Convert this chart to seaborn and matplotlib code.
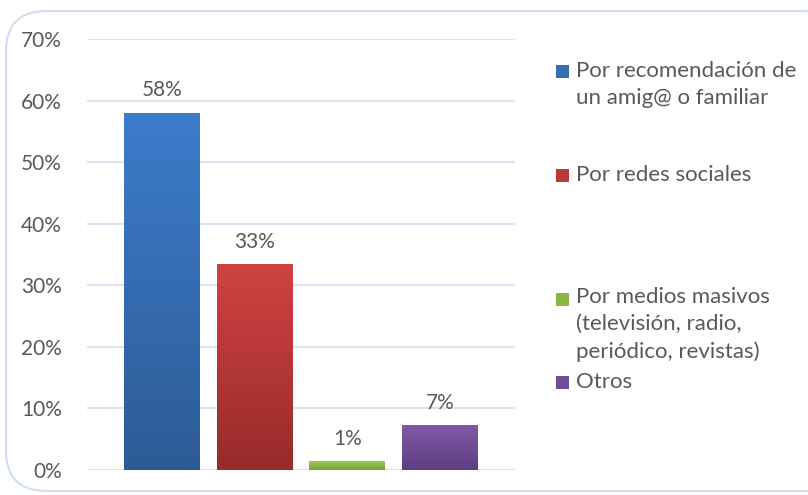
import numpy as np
import pandas as pd
import matplotlib
matplotlib.use("Agg")
import matplotlib.pyplot as plt
import seaborn as sns
from matplotlib.colors import LinearSegmentedColormap
from matplotlib.patches import FancyBboxPatch, Rectangle

categories = ["Por recomendación de\nun amig@ o familiar",
              "Por redes sociales",
              "Por medios masivos\n(televisión, radio,\nperiódico, revistas)",
              "Otros"]
shares = [0.58, 0.334, 0.014, 0.073]
bar_labels = ["58%", "33%", "1%", "7%"]
yticks = [0, 0.1, 0.2, 0.3, 0.4, 0.5, 0.6, 0.7]

# gradient colours (top, bottom) like the Excel fill
tops = ["#3d7ccb", "#d04242", "#9cc94c", "#8159a9"]
bottoms = ["#2d5b96", "#982b2b", "#75a23a", "#5e3f80"]
mids = ["#366cb3", "#b93838", "#8ab643", "#704c97"]

text_col = "#595959"
grid_col = "#d9e4f2"

sns.set_theme(style="white")
plt.rcParams["font.family"] = ["Lato", "DejaVu Sans"]

fig = plt.figure(figsize=(8.08, 4.95), dpi=100)
ax = fig.add_axes([87 / 808, 1 - 470 / 495, (515 - 87) / 808, (470 - 39) / 495])

df = pd.DataFrame({"cat": categories, "share": shares})
sns.barplot(data=df, x="cat", y="share", hue="cat", palette=mids,
            width=0.82, legend=False, ax=ax, zorder=3)

# gradient fill clipped to each bar
for patch, top, bot in zip(ax.patches, tops, bottoms):
    x0, y0 = patch.get_x(), patch.get_y()
    w, h = patch.get_width(), patch.get_height()
    cmap = LinearSegmentedColormap.from_list("g", [bot, top])
    grad = np.linspace(1, 0, 100).reshape(-1, 1)
    im = ax.imshow(grad, cmap=cmap, vmin=0, vmax=1, aspect="auto",
                   extent=[x0, x0 + w, y0, y0 + h], zorder=4)
    im.set_clip_path(patch)
    patch.set_edgecolor("none")

for i, (v, lab) in enumerate(zip(shares, bar_labels)):
    ax.annotate(lab, (i, v), xytext=(0, 9), textcoords="offset points",
                ha="center", va="bottom", fontsize=15, color=text_col, zorder=5)

ax.set_xlim(-0.81, 3.81)
ax.set_ylim(0, 0.70)
ax.set_yticks(yticks)
ax.set_yticklabels([f"{t:.0%}" for t in yticks], fontsize=15, color=text_col)
ax.tick_params(axis="y", length=0, pad=18)
ax.set_xticks([])
ax.set_xlabel("")
ax.set_ylabel("")
ax.yaxis.grid(True, color=grid_col, linewidth=1.6, zorder=0)
ax.set_axisbelow(True)
for s in ax.spines.values():
    s.set_visible(False)

# rounded chart border
border = FancyBboxPatch((6 / 808, 4 / 495), 840 / 808, 480 / 495,
                        boxstyle="round,pad=0,rounding_size=0.05",
                        transform=fig.transFigure, fill=False,
                        edgecolor="#cfdff1", linewidth=1.5, zorder=0,
                        mutation_aspect=808 / 495)
fig.patches.append(border)

# legend, placed like Excel spreads it
legend_y = [77, 181, 305, 388]  # baseline of first line, px
line_px = 26.5
for lab, col, yb in zip(categories, mids, legend_y):
    n = lab.count("\n")
    fig.patches.append(Rectangle((556 / 808, 1 - (yb + 0.5) / 495), 13 / 808, 13 / 495,
                                 transform=fig.transFigure, facecolor=col,
                                 edgecolor="none"))
    fig.text(576 / 808, 1 - (yb + n * line_px) / 495, lab, fontsize=16,
             color=text_col, ha="left", va="baseline", linespacing=1.43)

fig.savefig("out.png", dpi=100, facecolor="white")
